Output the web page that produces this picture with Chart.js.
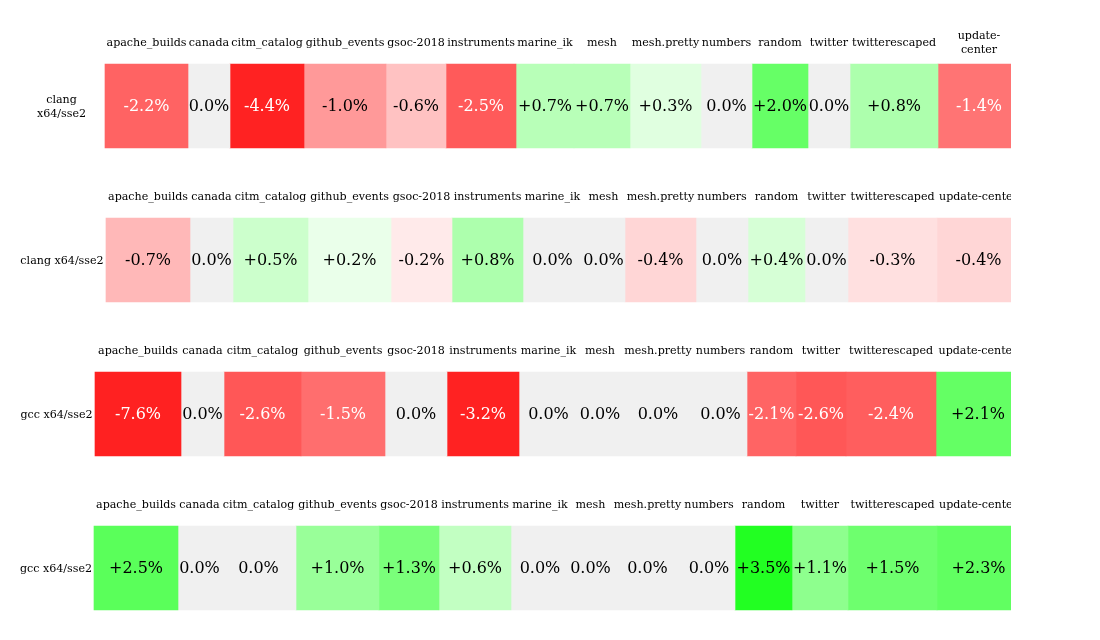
<!DOCTYPE html>
<html><head><meta charset="utf-8">
<script src="https://cdn.jsdelivr.net/npm/chart.js@4.4.1/dist/chart.umd.min.js"></script>
<style>html,body{margin:0;padding:0;background:#fff}canvas{display:block}</style>
</head><body>
<canvas id="c" width="1100" height="640"></canvas>
<script>
// ---- data ----
const benchmarks = ['apache_builds','canada','citm_catalog','github_events','gsoc-2018','instruments','marine_ik','mesh','mesh.pretty','numbers','random','twitter','twitterescaped','update-center'];
const rowLabels = ['clang x64/sse2','clang x64/sse2','gcc x64/sse2','gcc x64/sse2'];
const wrapRows = [true,false,false,false];
const clangA = [-2.2, 0.0, -4.4, -1.0, -0.6, -2.5, 0.7, 0.7, 0.3, 0.0, 2.0, 0.0, 0.8, -1.4];
const clangB = [-0.7, 0.0, 0.5, 0.2, -0.2, 0.8, 0.0, 0.0, -0.4, 0.0, 0.4, 0.0, -0.3, -0.4];
const gccA   = [-7.6, 0.0, -2.6, -1.5, 0.0, -3.2, 0.0, 0.0, 0.0, 0.0, -2.1, -2.6, -2.4, 2.1];
const gccB   = [2.5, 0.0, 0.0, 1.0, 1.3, 0.6, 0.0, 0.0, 0.0, 0.0, 3.5, 1.1, 1.5, 2.3];
const values = [clangA, clangB, gccA, gccB];

// ---- styling / layout helpers ----
const LABEL_FONT = "11.1px 'DejaVu Serif'";
const VALUE_FONT = "16px 'DejaVu Serif'";
const TABLE_LEFT = 18, CLIP_RIGHT = 1011, TABLE_WIDTH = 1002;

function fmt(v){ if (v === 0) return '0.0%'; return (v > 0 ? '+' : '-') + Math.abs(v).toFixed(1) + '%'; }
const mctx = document.createElement('canvas').getContext('2d');
function textW(t, f){ mctx.font = f; return mctx.measureText(t).width; }

// column edges per row (table units = pixels from TABLE_LEFT), from text widths like an auto-sized table
const layout = values.map((vals, r) => {
  const nat = [1.2 * textW(rowLabels[r], LABEL_FONT)];
  vals.forEach((v, j) => nat.push(1.2 * Math.max(textW(benchmarks[j], LABEL_FONT), textW(fmt(v), VALUE_FONT))));
  const total = nat.reduce((a, b) => a + b, 0);
  const k = TABLE_WIDTH / total;
  const edges = [0]; let acc = 0;
  nat.forEach(w => { acc += w * k; edges.push(Math.round(acc)); });
  return edges;
});

const ramp = [[0,255],[0.2,234],[0.5,204],[1.0,153],[1.1,142],[1.3,122],[1.5,110],[2.0,102],[2.3,97],[2.6,87],[3.0,34],[10,32]];
function level(a){
  for (let i = 1; i < ramp.length; i++) {
    if (a <= ramp[i][0]) {
      const [x0,y0] = ramp[i-1], [x1,y1] = ramp[i];
      return y0 + (y1 - y0) * (a - x0) / (x1 - x0);
    }
  }
  return ramp[ramp.length-1][1];
}
function rgbOf(v){
  if (v === 0) return [240,240,240];
  const c = Math.round(level(Math.abs(v)));
  return v > 0 ? [c,255,c] : [255,c,c];
}
function cellColor(v){ const [r,g,b] = rgbOf(v); return `rgb(${r},${g},${b})`; }
function textColor(v){
  const lin = c => { c /= 255; return c <= 0.04045 ? c/12.92 : Math.pow((c+0.055)/1.055, 2.4); };
  const [r,g,b] = rgbOf(v);
  const L = 0.2126*lin(r) + 0.7152*lin(g) + 0.0722*lin(b);
  return L < 0.42 ? '#ffffff' : '#000000';
}
function wrap(t){ return t.replace(/-/g, '-\u0001').split(/[ \u0001]/).filter(s => s.length); }

const datasets = benchmarks.map((b, j) => ({
  label: b,
  data: values.map((vals, r) => ({ y: r, x: [layout[r][j+1], layout[r][j+2]] })),
  backgroundColor: values.map(vals => cellColor(vals[j])),
  borderWidth: 0,
  grouped: false,
  barThickness: 84,
  clip: { left: false, top: false, bottom: false, right: 0 }
}));

const textPlugin = {
  id: 'cellText',
  afterDatasetsDraw(chart){
    const { ctx, chartArea } = chart;
    const xs = chart.scales.x, ys = chart.scales.y;
    ctx.save();
    ctx.beginPath(); ctx.rect(0, 0, chartArea.right, chart.height); ctx.clip();
    ctx.textAlign = 'center'; ctx.textBaseline = 'middle';
    const drawLines = (lines, cx, cy, lh) => {
      const n = lines.length;
      lines.forEach((s, i) => ctx.fillText(s, cx, cy + (i - (n-1)/2) * lh));
    };
    values.forEach((vals, r) => {
      const e = layout[r];
      const cy = ys.getPixelForValue(r) + 1;
      const top = cy - 42;
      ctx.font = LABEL_FONT; ctx.fillStyle = '#000';
      const lx = (xs.getPixelForValue(e[0]) + xs.getPixelForValue(e[1])) / 2;
      drawLines(wrapRows[r] ? wrap(rowLabels[r]) : [rowLabels[r]], lx, cy, 14);
      vals.forEach((v, j) => {
        const x0 = xs.getPixelForValue(e[j+1]), x1 = xs.getPixelForValue(e[j+2]);
        const cx = (x0 + x1) / 2;
        ctx.font = VALUE_FONT; ctx.fillStyle = textColor(v);
        ctx.fillText(fmt(v), cx, cy);
        ctx.font = LABEL_FONT; ctx.fillStyle = '#000';
        let lines = [benchmarks[j]];
        if (wrapRows[r] && cx + textW(benchmarks[j], LABEL_FONT) / 2 > chartArea.right) lines = wrap(benchmarks[j]);
        drawLines(lines, cx, top - 22, 13.5);
      });
    });
    ctx.restore();
  }
};

new Chart(document.getElementById('c'), {
  type: 'bar',
  data: { datasets },
  options: {
    responsive: false,
    animation: false,
    indexAxis: 'y',
    layout: { padding: { left: TABLE_LEFT, right: 1100 - CLIP_RIGHT, top: 29, bottom: 10.4 } },
    scales: {
      x: { type: 'linear', min: 0, max: CLIP_RIGHT - TABLE_LEFT, display: false, offset: false },
      y: { type: 'linear', min: -0.5, max: 3.4, reverse: true, display: false, offset: false }
    },
    plugins: { legend: { display: false }, tooltip: { enabled: false } }
  },
  plugins: [textPlugin]
});
</script>
</body></html>
